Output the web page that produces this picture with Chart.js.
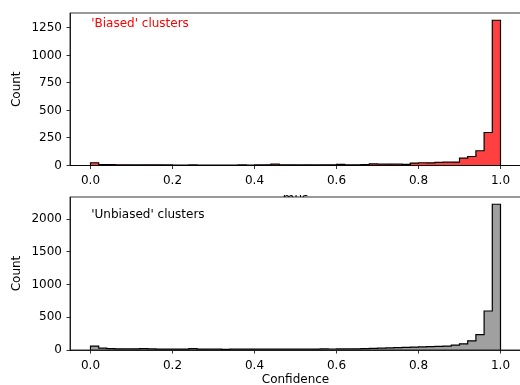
<!DOCTYPE html>
<html>
<head>
<meta charset="utf-8">
<script src="https://cdn.jsdelivr.net/npm/chart.js@4.4.1/dist/chart.umd.min.js"></script>
<style>
  html, body { margin: 0; padding: 0; background: #fff; overflow: hidden; width: 520px; height: 385px; }
  canvas { position: absolute; left: 0; }
  #biased { top: 0; z-index: 1; }
  #unbiased { top: 180px; z-index: 2; }
</style>
</head>
<body>
<canvas id="biased" width="522" height="208"></canvas>
<canvas id="unbiased" width="522" height="210"></canvas>
<script>
// Histogram of confidence values, 50 bins of width 0.02 on [0, 1]
const binWidth = 0.02;
const binCount = 50;

// Counts per bin for the 'Biased' clusters
const biasedCounts = [
  25, 8, 8, 6, 7, 5, 7, 7, 6, 5,
  4, 4, 5, 4, 4, 3, 4, 3, 5, 4,
  5, 6, 12, 7, 6, 5, 6, 5, 7, 6,
  10, 7, 6, 8, 14, 12, 13, 12, 11, 22,
  25, 24, 28, 30, 31, 67, 82, 134, 300, 1320
];

// Counts per bin for the 'Unbiased' clusters
const unbiasedCounts = [
  60, 28, 20, 18, 16, 18, 22, 16, 14, 12,
  14, 12, 20, 14, 12, 12, 11, 12, 12, 14,
  12, 13, 12, 13, 12, 13, 12, 14, 16, 15,
  16, 17, 18, 20, 24, 28, 32, 35, 40, 44,
  48, 52, 56, 60, 75, 95, 140, 235, 597, 2230
];

const xTickValues = [0.0, 0.2, 0.4, 0.6, 0.8, 1.0];
const biasedYTicks = [0, 250, 500, 750, 1000, 1250];
const unbiasedYTicks = [0, 500, 1000, 1500, 2000];

// Outline of a step histogram: rise at the first edge, step across each bin, drop at the last edge
function stepPoints(counts) {
  const pts = [{ x: 0, y: 0 }];
  counts.forEach((c, i) => pts.push({ x: i * binWidth, y: c }));
  pts.push({ x: binCount * binWidth, y: counts[counts.length - 1] });
  pts.push({ x: binCount * binWidth, y: 0 });
  return pts;
}

const FONT = { family: 'DejaVu Sans', size: 12 };

// White axes background and black box around the plot area
const axesBox = {
  id: 'axesBox',
  beforeDraw(chart) {
    const { ctx, chartArea: a } = chart;
    ctx.save();
    ctx.fillStyle = '#ffffff';
    ctx.fillRect(a.left, a.top, a.right - a.left, a.bottom - a.top);
    ctx.restore();
  },
  afterDraw(chart) {
    const { ctx, chartArea: a } = chart;
    ctx.save();
    ctx.strokeStyle = '#000';
    ctx.lineWidth = 0.8;
    ctx.strokeRect(a.left, a.top, a.right - a.left, a.bottom - a.top);
    ctx.restore();
  }
};

// Caption inside the plot area, placed by axes fraction
const caption = {
  id: 'caption',
  afterDatasetsDraw(chart, args, opts) {
    const { ctx, chartArea: a } = chart;
    ctx.save();
    ctx.font = '12px "DejaVu Sans"';
    ctx.fillStyle = opts.color;
    ctx.textAlign = 'left';
    ctx.textBaseline = 'middle';
    ctx.fillText(opts.text, a.left + opts.fx * (a.right - a.left), a.top + opts.fy * (a.bottom - a.top));
    ctx.restore();
  }
};

function makeChart(id, counts, fill, yTicks, yMax, xTitle, xTitlePad, padTop, plotBottom, canvasH, capText, capColor, capFy) {
  return new Chart(document.getElementById(id), {
    type: 'line',
    data: {
      datasets: [{
        data: stepPoints(counts),
        stepped: 'before',
        borderColor: '#000',
        borderWidth: 1.2,
        backgroundColor: fill,
        fill: 'origin',
        pointRadius: 0,
        clip: 3
      }]
    },
    options: {
      responsive: false,
      animation: false,
      devicePixelRatio: 1,
      layout: { padding: { top: padTop, right: 1, left: 0, bottom: 0 } },
      plugins: {
        legend: { display: false },
        tooltip: { enabled: false },
        caption: { text: capText, color: capColor, fx: 0.047, fy: capFy }
      },
      scales: {
        x: {
          type: 'linear',
          min: -0.05,
          max: 1.05,
          afterBuildTicks: s => { s.ticks = xTickValues.map(v => ({ value: v })); },
          afterFit: s => { s.height = canvasH - plotBottom; },
          ticks: {
            font: FONT, color: '#000', padding: 5,
            maxRotation: 0,
            callback: v => v.toFixed(1)
          },
          grid: { display: true, drawOnChartArea: false, drawTicks: true, tickLength: 3.5, color: '#000', lineWidth: 0.8 },
          border: { display: true, color: '#000', width: 0.8 },
          title: { display: true, text: xTitle, font: FONT, color: '#000', padding: { top: 0, bottom: xTitlePad } }
        },
        y: {
          type: 'linear',
          min: 0,
          max: yMax,
          afterBuildTicks: s => { s.ticks = yTicks.map(v => ({ value: v })); },
          afterFit: s => { s.width = 70; },
          ticks: { font: FONT, color: '#000', padding: 4.5, callback: v => String(v) },
          grid: { display: true, drawOnChartArea: false, drawTicks: true, tickLength: 3.5, color: '#000', lineWidth: 0.8 },
          border: { display: true, color: '#000', width: 0.8 },
          title: { display: true, text: 'Count', font: FONT, color: '#000', padding: { top: 9.5, bottom: 0 } }
        }
      }
    },
    plugins: [axesBox, caption]
  });
}

makeChart('biased', biasedCounts, 'rgba(255,0,0,0.75)', biasedYTicks, 1386,
  'mus', 2.3, 13, 165.5, 208, "'Biased' clusters", '#ff0000', 0.072);
makeChart('unbiased', unbiasedCounts, 'rgba(128,128,128,0.75)', unbiasedYTicks, 2341,
  'Confidence', 2.8, 17, 170, 210, "'Unbiased' clusters", '#000000', 0.118);
</script>
</body>
</html>
